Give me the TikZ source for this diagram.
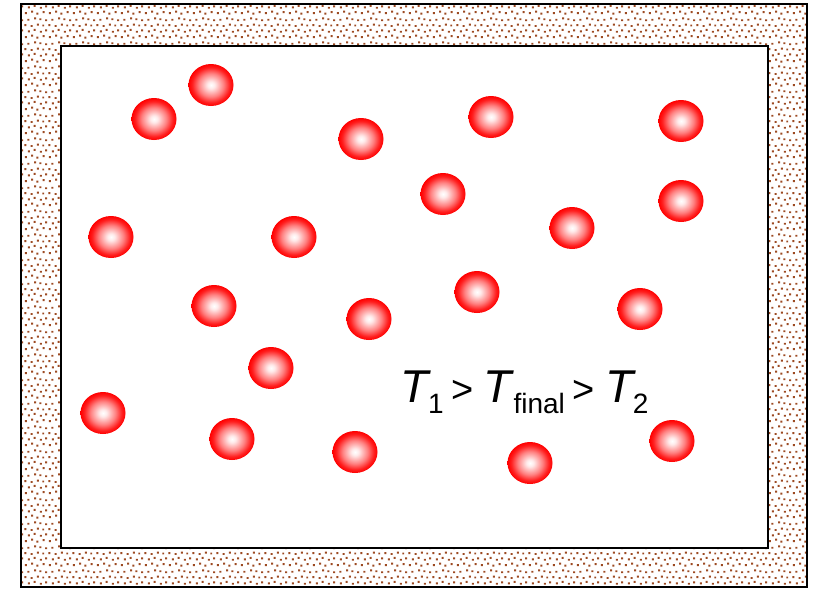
\documentclass[tikz,border=0pt]{standalone}
\usepackage{fontspec}
\setmainfont{Liberation Sans}
\usetikzlibrary{patterns,shapes.geometric}
\definecolor{wallbrown}{HTML}{9C4A22}
\definecolor{molred}{HTML}{FF0000}

% speckled wall, jittered dots in a 24pt tile
\pgfdeclarepatternformonly{wallspeckle}{\pgfpointorigin}{\pgfpoint{24pt}{24pt}}{\pgfpoint{24pt}{24pt}}{%
  \foreach \px/\py in {1/1, 7.5/2.5, 13/0.5, 19.5/2, 4/7, 10/8.5, 16.5/6.5, 22/8,
      0.5/13.5, 7/12.5, 13.5/14, 19/13, 3.5/19, 10.5/20.5, 16/19.5, 22/18.5}
    {\pgfpathrectangle{\pgfpoint{\px pt}{\py pt}}{\pgfpoint{2pt}{2pt}}}
  \pgfusepath{fill}}
\pgfdeclareradialshading{molball}{\pgfpoint{0bp}{0bp}}{color(0bp)=(white);
  color(4bp)=(white!92!molred); color(14bp)=(molred!50!white);
  color(21bp)=(molred!88!white); color(25bp)=(molred); color(50bp)=(molred)}
\newcommand{\tsub}[1]{\raisebox{-11pt}{\fontsize{28}{28}\selectfont #1}}
\newcommand{\tgt}{{\fontsize{38}{38}\selectfont >}}

\begin{document}
\begin{tikzpicture}[x=1pt,y=-1pt,
    molecule/.style={ellipse, minimum width=45pt, minimum height=42pt, inner sep=0pt,
      shade, shading=molball},
    wall/.style={draw=black, line width=2.5pt}]
  \useasboundingbox (0,0) rectangle (818,590);
  % insulating wall
  \fill[pattern=wallspeckle, pattern color=wallbrown, even odd rule]
    (21,4) rectangle (807,587) (61,46) rectangle (768,548);
  \draw[wall] (21,4) rectangle (807,587);
  \draw[wall] (61,46) rectangle (768,548);
  % molecules
  \foreach \x/\y [count=\i] in {211/85, 154/119, 361/139, 491/117, 681/121,
      443/194, 681/201, 572/228, 111/237, 294/237, 214/306, 369/319,
      477/292, 640/309, 271/368, 103/413, 232/439, 355/452, 530/463, 672/441}
    \node[molecule] (m\i) at (\x,\y) {};
  \node[anchor=base west, inner sep=0pt] (temp) at (400,402) {\fontsize{46}{50}\selectfont
    \textit{T}\kern-3pt\tsub{1}\kern8pt\tgt\kern10pt\textit{T}\kern-1pt\tsub{final}\kern8pt\tgt\kern10pt\textit{T}\kern-3pt\tsub{2}};
\end{tikzpicture}
\end{document}
